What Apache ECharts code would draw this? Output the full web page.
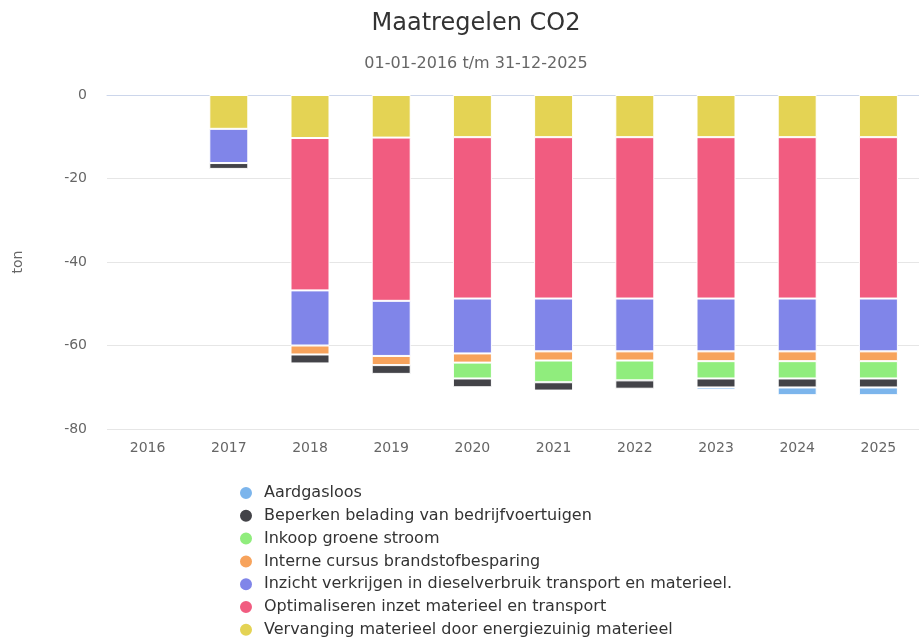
<!DOCTYPE html>
<html>
<head>
<meta charset="utf-8">
<script src="https://cdn.jsdelivr.net/npm/echarts@6/dist/echarts.min.js"></script>
<style>
html,body{margin:0;padding:0;background:#fff;}
#chart{width:919px;height:638px;}
</style>
</head>
<body>
<div id="chart"></div>
<script>
var categories = ['2016','2017','2018','2019','2020','2021','2022','2023','2024','2025'];
var yTicks = [-80, -60, -40, -20, 0];

var aardgasloos   = [null, null, null, null, null, null, null, -0.6, -1.85, -1.85];
var beperken      = [null, -1.4, -2.15, -2.1, -2.1, -2.0, -2.0, -2.15, -2.15, -2.15];
var inkoop        = [null, null, null, null, -3.8, -5.2, -4.75, -4.15, -4.15, -4.15];
var interne       = [null, null, -2.15, -2.2, -2.2, -2.2, -2.2, -2.35, -2.35, -2.35];
var inzicht       = [null, -8.2, -13.2, -13.2, -13.15, -12.65, -12.65, -12.65, -12.65, -12.65];
var optimaliseren = [null, null, -36.5, -39.1, -38.65, -38.65, -38.65, -38.65, -38.65, -38.65];
var vervanging    = [null, -8.1, -10.3, -10.2, -10.1, -10.1, -10.1, -10.1, -10.1, -10.1];

var seriesNames = [
  'Aardgasloos',
  'Beperken belading van bedrijfvoertuigen',
  'Inkoop groene stroom',
  'Interne cursus brandstofbesparing',
  'Inzicht verkrijgen in dieselverbruik transport en materieel.',
  'Optimaliseren inzet materieel en transport',
  'Vervanging materieel door energiezuinig materieel'
];
var seriesData = [aardgasloos, beperken, inkoop, interne, inzicht, optimaliseren, vervanging];
var colors = ['#7cb5ec', '#434348', '#90ed7d', '#f7a35c', '#8085e9', '#f15c80', '#e4d354'];

var font = 'DejaVu Sans';
var series = [];
for (var i = seriesNames.length - 1; i >= 0; i--) {
  series.push({
    name: seriesNames[i],
    type: 'bar',
    stack: 'total',
    barWidth: 39,
    data: seriesData[i],
    itemStyle: { color: colors[i], borderColor: '#ffffff', borderWidth: 1 }
  });
}

var chart = echarts.init(document.getElementById('chart'), null, { renderer: 'canvas' });
chart.setOption({
  animation: false,
  color: colors,
  title: [
    { text: 'Maatregelen CO2', left: 471, top: 7, textAlign: 'center',
      textStyle: { fontFamily: font, fontSize: 24, fontWeight: 'normal', color: '#333333' } },
    { text: '01-01-2016 t/m 31-12-2025', left: 471, top: 51, textAlign: 'center',
      textStyle: { fontFamily: font, fontSize: 16, fontWeight: 'normal', color: '#666666' } }
  ],
  legend: {
    orient: 'vertical',
    left: 233,
    top: 480,
    height: 200,
    icon: 'circle',
    itemWidth: 26,
    itemHeight: 14,
    itemGap: 6.8,
    data: seriesNames,
    textStyle: { fontFamily: font, fontSize: 16, color: '#333333', lineHeight: 16, padding: 0 }
  },
  grid: { left: 107, right: -9, top: 95, bottom: 209, containLabel: false },
  xAxis: {
    type: 'category',
    data: categories,
    axisLine: { show: true, lineStyle: { color: '#ccd6eb', width: 1 } },
    axisTick: { show: false },
    axisLabel: { fontFamily: font, fontSize: 14, color: '#666666', margin: 12 },
    splitLine: { show: false }
  },
  yAxis: {
    type: 'value',
    min: yTicks[0],
    max: yTicks[yTicks.length - 1],
    interval: 20,
    name: 'ton',
    nameLocation: 'middle',
    nameGap: 82,
    nameRotate: 90,
    nameTextStyle: { fontFamily: font, fontSize: 14, color: '#666666' },
    axisLine: { show: false },
    axisTick: { show: false },
    axisLabel: { fontFamily: font, fontSize: 14, color: '#666666', margin: 20 },
    splitLine: { lineStyle: { color: '#e6e6e6', width: 1 } }
  },
  series: series
});
</script>
</body>
</html>
